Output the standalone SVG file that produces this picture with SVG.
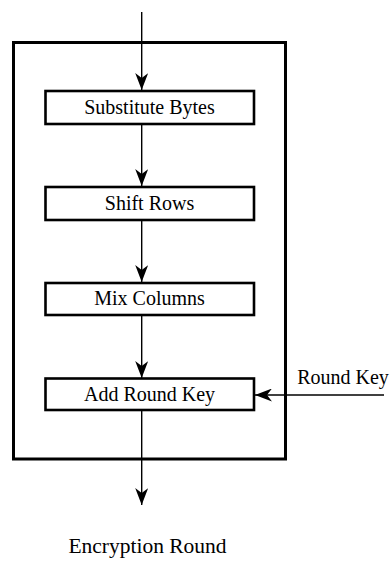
<svg xmlns="http://www.w3.org/2000/svg" width="390" height="561" viewBox="0 0 390 561">
<style>
.box{fill:#fff;stroke:#000;stroke-width:2.6}
.outer{fill:none;stroke:#000;stroke-width:3}
.lbl{font-family:"Liberation Serif","Times New Roman",serif;font-size:20px;fill:#000;text-anchor:middle}
.conn{stroke:#000;stroke-width:1.4;fill:none}
</style>
<defs>
<marker id="ah" viewBox="0 0 17 13" refX="17" refY="6.5" markerWidth="17" markerHeight="13" markerUnits="userSpaceOnUse" orient="auto">
<path d="M0,0 L17,6.5 L0,13 L5,6.5 Z" fill="#000"/>
</marker>
</defs>
<g id="round-frame"><rect class="outer" x="13.5" y="42.5" width="272" height="416.5"/></g>
<g id="connectors">
<line class="conn" x1="141.7" y1="12" x2="141.7" y2="90" marker-end="url(#ah)"/>
<line class="conn" x1="141.7" y1="124" x2="141.7" y2="186" marker-end="url(#ah)"/>
<line class="conn" x1="141.7" y1="220" x2="141.7" y2="282" marker-end="url(#ah)"/>
<line class="conn" x1="141.7" y1="315" x2="141.7" y2="378" marker-end="url(#ah)"/>
<line class="conn" x1="141.7" y1="410" x2="141.7" y2="505" marker-end="url(#ah)"/>
<line class="conn" x1="384" y1="395" x2="255" y2="395" marker-end="url(#ah)"/>
</g>
<g id="substitute-bytes"><rect class="box" x="45.5" y="91" width="208.5" height="33"/><text class="lbl" x="149.5" y="113.5">Substitute Bytes</text></g>
<g id="shift-rows"><rect class="box" x="45.5" y="187" width="208.5" height="33"/><text class="lbl" x="149.5" y="209.5">Shift Rows</text></g>
<g id="mix-columns"><rect class="box" x="45.5" y="283" width="208.5" height="32"/><text class="lbl" x="149.5" y="305">Mix Columns</text></g>
<g id="add-round-key"><rect class="box" x="45.5" y="378.5" width="208.5" height="31.5"/><text class="lbl" x="149.5" y="401">Add Round Key</text></g>
<g id="round-key"><text class="lbl" x="343" y="384">Round Key</text></g>
<g id="caption"><text class="lbl" x="147.5" y="553" style="font-size:21.5px">Encryption Round</text></g>
</svg>
